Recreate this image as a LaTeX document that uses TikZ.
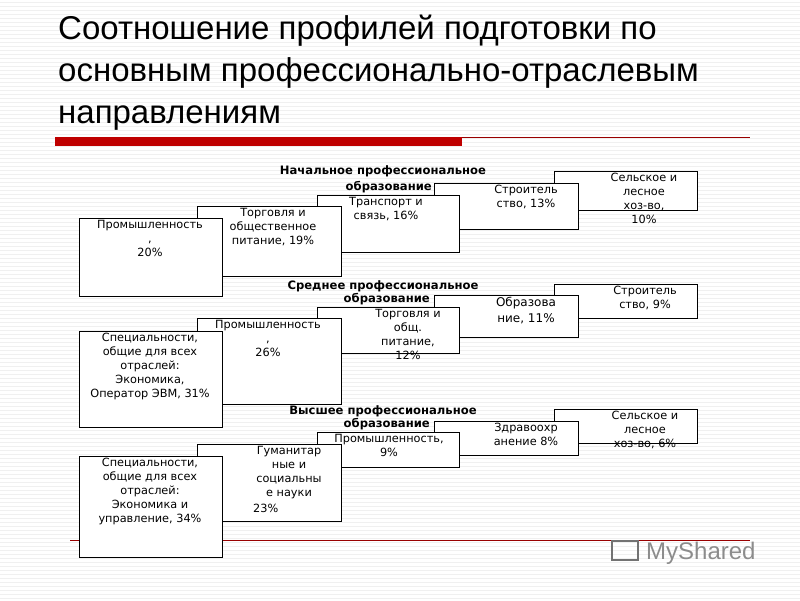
\documentclass[tikz,border=0pt]{standalone}
\usepackage{fontspec}
\setmainfont{DejaVu Sans}
\newfontfamily\titlefont{Liberation Sans}
\begin{document}
\begin{tikzpicture}[x=1pt,y=-1pt,
  bx/.style={draw=black,fill=white,line width=0.8pt},
  tx/.style={font=\fontsize{11.3}{14}\selectfont,align=center,anchor=north,inner sep=0pt},
  hd/.style={font=\bfseries\fontsize{11.6}{13}\selectfont,inner sep=0pt}]
\useasboundingbox (0,0) rectangle (800,600);
\fill[white] (0,0) rectangle (800,600);
\foreach \y in {2,6,...,598} \draw[black!6,line width=0.4pt] (0,\y) -- (800,\y);
% title
\node[anchor=north west,inner sep=0pt,align=left,font=\titlefont\fontsize{33}{42}\selectfont] (title) at (58,15)
 {Соотношение профилей подготовки по\\основным профессионально-отраслевым\\направлениям};
\fill[red!75!black] (55,137) rectangle (462,146);
\draw[red!60!black,line width=0.6pt] (462,137) -- (750,137);
\draw[red!60!black,line width=0.6pt] (70,540) -- (750,540);
% group 1
\draw[bx] (554,171) rectangle (697,210);
\draw[bx] (434,183) rectangle (578,229);
\draw[bx] (317,195) rectangle (459,252);
\draw[bx] (197,206) rectangle (341,276);
\draw[bx] (79,218) rectangle (222,296);
\node[tx] (e1) at (644,173) {Сельское и\\лесное\\хоз-во,\\10\%};
\node[tx] (d1) at (526,185) {Строитель\\ство, 13\%};
\node[tx] (c1) at (386,197) {Транспорт и\\связь, 16\%};
\node[tx] (b1) at (273,208) {Торговля и\\общественное\\питание, 19\%};
\node[tx] (a1) at (150,220) {Промышленность\\,\\20\%};
\node[hd] (h1) at (383,171) {Начальное профессиональное};
\node[hd,anchor=east] (h1b) at (432,187) {образование};
% group 2
\draw[bx] (554,284) rectangle (697,318);
\draw[bx] (434,295) rectangle (578,337);
\draw[bx] (317,307) rectangle (459,353);
\draw[bx] (197,318) rectangle (341,404);
\draw[bx] (79,331) rectangle (222,427);
\node[tx] (e2) at (645,286) {Строитель\\ство, 9\%};
\node[tx,font=\fontsize{12}{16}\selectfont] (d2) at (526,297) {Образова\\ние, 11\%};
\node[tx] (c2) at (408,309) {Торговля и\\общ.\\питание,\\12\%};
\node[tx] (b2) at (268,320) {Промышленность\\,\\26\%};
\node[tx] (a2) at (150,333) {Специальности,\\общие для всех\\отраслей:\\Экономика,\\Оператор ЭВМ, 31\%};
\node[hd] (h2) at (383,286) {Среднее профессиональное};
\node[hd,anchor=east] (h2b) at (430,299) {образование};
% group 3
\draw[bx] (554,409) rectangle (697,443);
\draw[bx] (434,421) rectangle (578,455);
\draw[bx] (317,432) rectangle (459,467);
\draw[bx] (197,444) rectangle (341,521);
\draw[bx] (79,456) rectangle (222,557);
\node[tx] (e3) at (645,411) {Сельское и\\лесное\\хоз-во, 6\%};
\node[tx] (d3) at (526,423) {Здравоохр\\анение 8\%};
\node[tx] (c3) at (389,434) {Промышленность,\\9\%};
\node[tx] (b3) at (289,446) {Гуманитар\\ные и\\социальны\\е науки};
\node[tx,anchor=north west] (b3b) at (253,504) {23\%};
\node[tx] (a3) at (150,458) {Специальности,\\общие для всех\\отраслей:\\Экономика и\\управление, 34\%};
\node[hd] (h3) at (383,411) {Высшее профессиональное};
\node[hd,anchor=east] (h3b) at (430,424) {образование};
% logo
\node[anchor=west,inner sep=0pt,text=black!45,font=\titlefont\fontsize{24}{24}\selectfont] (logo) at (646,553) {MyShared};
\draw[black!55,line width=1.2pt] (612,541) rectangle (638,560);
\end{tikzpicture}
\end{document}
